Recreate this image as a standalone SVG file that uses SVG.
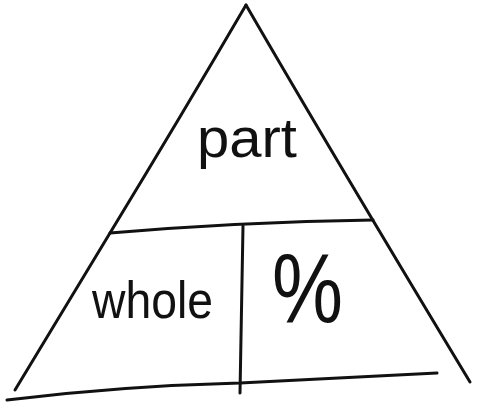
<svg xmlns="http://www.w3.org/2000/svg" width="477" height="404" viewBox="0 0 477 404">
<style>
.ln{fill:none;stroke:#111;stroke-width:3;stroke-linecap:round;stroke-linejoin:round}
.t{font-family:"Liberation Sans","DejaVu Sans",sans-serif;fill:#111}
</style>
<rect width="477" height="404" fill="#fff"/>
<g id="connectors">
<path class="ln" d="M15,390 L110,233 Q180,118 246,5"/>
<path class="ln" d="M246,5 Q330,150 470,382"/>
<path class="ln" d="M7,400 Q120,386 240,383 Q340,378 437,373"/>
<path class="ln" d="M110,233 Q240,222 373,220"/>
<path class="ln" d="M243,226 L240,393"/>
</g>
<g id="part"><text class="t" x="197" y="157" font-size="55" textLength="100" lengthAdjust="spacingAndGlyphs">part</text></g>
<g id="whole"><text class="t" x="92" y="318" font-size="52" textLength="121" lengthAdjust="spacingAndGlyphs">whole</text></g>
<g id="percent"><text class="t" x="272" y="322" font-size="98" textLength="71" lengthAdjust="spacingAndGlyphs">%</text></g>
</svg>
